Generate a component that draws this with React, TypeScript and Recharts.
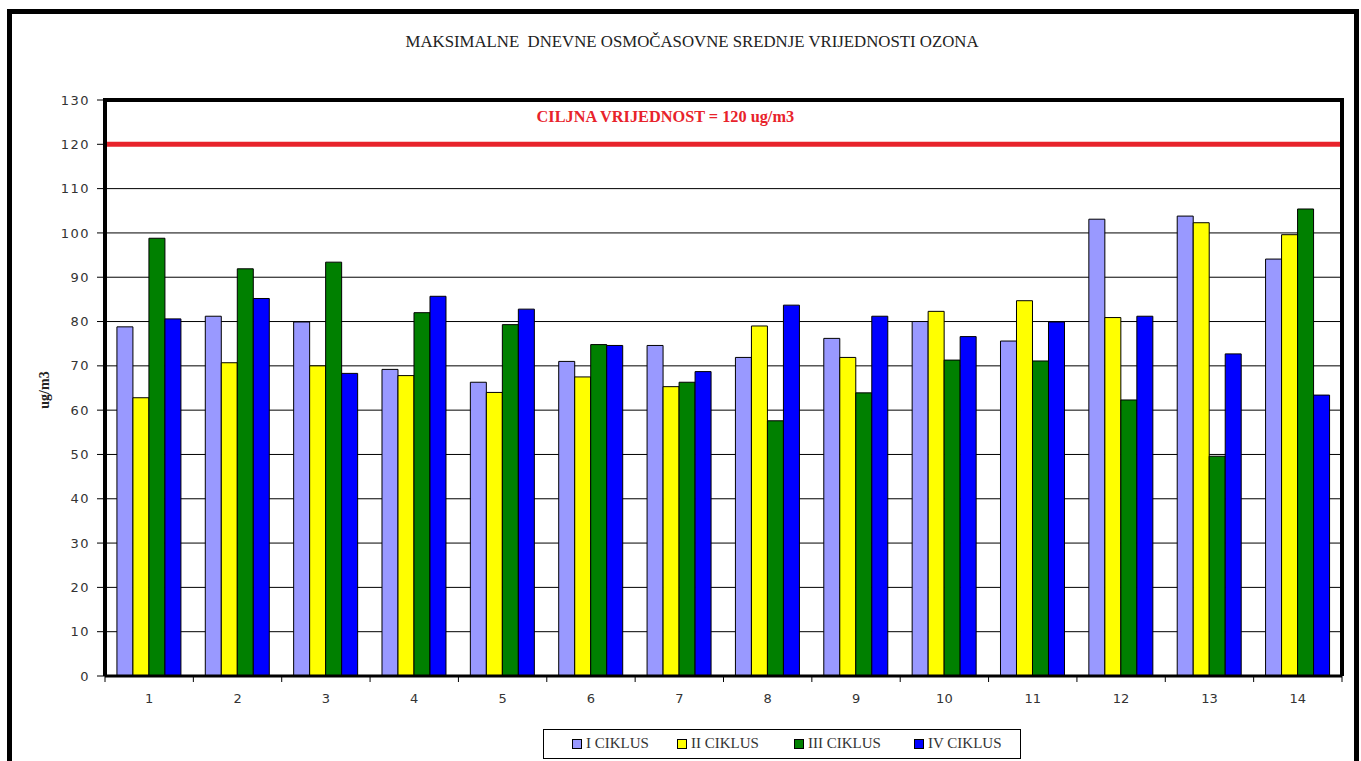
import React from "react";
import {
  BarChart,
  Bar,
  XAxis,
  YAxis,
  CartesianGrid,
  ReferenceLine,
} from "recharts";

const stations = ["1", "2", "3", "4", "5", "6", "7", "8", "9", "10", "11", "12", "13", "14"];
const ciklus1 = [78.8, 81.2, 79.9, 69.2, 66.3, 71.0, 74.6, 71.9, 76.2, 80.0, 75.6, 103.1, 103.8, 94.1];
const ciklus2 = [62.8, 70.7, 70.0, 67.8, 64.0, 67.5, 65.3, 79.0, 71.9, 82.3, 84.7, 80.9, 102.3, 99.6];
const ciklus3 = [98.8, 91.9, 93.4, 82.0, 79.3, 74.8, 66.3, 57.6, 63.9, 71.3, 71.1, 62.3, 49.6, 105.4];
const ciklus4 = [80.6, 85.2, 68.3, 85.7, 82.8, 74.6, 68.7, 83.7, 81.2, 76.6, 79.9, 81.2, 72.7, 63.4];
const yTicks = [0, 10, 20, 30, 40, 50, 60, 70, 80, 90, 100, 110, 120, 130];
const TARGET = 120;

const series = [
  { key: "c1", name: "I CIKLUS", color: "#9999FF", values: ciklus1 },
  { key: "c2", name: "II CIKLUS", color: "#FFFF00", values: ciklus2 },
  { key: "c3", name: "III CIKLUS", color: "#008000", values: ciklus3 },
  { key: "c4", name: "IV CIKLUS", color: "#0000FF", values: ciklus4 },
];

const data = stations.map((s, i) => {
  const row: Record<string, string | number> = { name: s };
  series.forEach((ser) => (row[ser.key] = ser.values[i]));
  return row;
});

const W = 1361;
const H = 761;
const PLOT_LEFT = 105;
const PLOT_RIGHT = 1342;
const PLOT_TOP = 100;
const PLOT_BOTTOM = 676;
const BAND = (PLOT_RIGHT - PLOT_LEFT) / stations.length;

function XTick(props: any) {
  const { x, payload, index } = props;
  const left = x - BAND / 2;
  return (
    <g>
      <line x1={left} y1={PLOT_BOTTOM} x2={left} y2={PLOT_BOTTOM + 6} stroke="#000" />
      {index === stations.length - 1 && (
        <line x1={x + BAND / 2} y1={PLOT_BOTTOM} x2={x + BAND / 2} y2={PLOT_BOTTOM + 6} stroke="#000" />
      )}
      <text
        x={x}
        y={PLOT_BOTTOM + 27}
        textAnchor="middle"
        fontSize={13}
        fontFamily="DejaVu Sans"
        fill="#333"
      >
        {payload.value}
      </text>
    </g>
  );
}

function TargetLabel(props: any) {
  const vb = props.viewBox;
  return (
    <text
      x={vb.x + vb.width * 0.453}
      y={vb.y - 22}
      textAnchor="middle"
      fontSize={16.3}
      fontWeight="bold"
      fontFamily="Liberation Serif"
      fill="#e8232b"
    >
      CILJNA VRIJEDNOST = 120 ug/m3
    </text>
  );
}

export default function App() {
  return (
    <div
      style={{
        position: "fixed",
        left: 0,
        top: 0,
        width: W,
        height: H,
        overflow: "hidden",
        background: "#fff",
      }}
    >
      <div
        style={{
          position: "absolute",
          left: 7,
          top: 9,
          width: 1352,
          height: 800,
          border: "5px solid #000",
          boxSizing: "border-box",
        }}
      />
      <div
        style={{
          position: "absolute",
          left: 0,
          width: 1384,
          top: 32,
          textAlign: "center",
          fontFamily: "Liberation Serif",
          fontSize: 16.8,
          color: "#222",
          whiteSpace: "pre",
        }}
      >
        {"MAKSIMALNE  DNEVNE OSMOČASOVNE SREDNJE VRIJEDNOSTI OZONA"}
      </div>
      <div
        style={{
          position: "absolute",
          left: 45,
          top: 390,
          transform: "translate(-50%, -50%) rotate(-90deg)",
          fontFamily: "Liberation Serif",
          fontWeight: "bold",
          fontSize: 14,
          color: "#222",
        }}
      >
        ug/m3
      </div>
      <div style={{ position: "absolute", left: 0, top: 0 }}>
        <BarChart
          width={W}
          height={H}
          data={data}
          margin={{ top: PLOT_TOP, right: W - PLOT_RIGHT, bottom: 55, left: 0 }}
          barCategoryGap="13.5%"
          barGap={0}
        >
          <CartesianGrid horizontal vertical={false} stroke="#000" strokeWidth={1} />
          <XAxis
            dataKey="name"
            height={30}
            axisLine={{ stroke: "#000", strokeWidth: 3 }}
            tickLine={false}
            tick={<XTick />}
            interval={0}
          />
          <YAxis
            width={PLOT_LEFT}
            domain={[0, 130]}
            ticks={yTicks}
            interval={0}
            axisLine={{ stroke: "#000", strokeWidth: 4 }}
            tickLine={{ stroke: "#000" }}
            tickSize={8}
            tickMargin={7}
            tick={{ fontSize: 13, fontFamily: "DejaVu Sans", fill: "#333", letterSpacing: 1.5 }}
          />
          {series.map((s) => (
            <Bar
              key={s.key}
              dataKey={s.key}
              name={s.name}
              fill={s.color}
              stroke="#000"
              strokeWidth={1}
              isAnimationActive={false}
            />
          ))}
          <ReferenceLine
            y={TARGET}
            stroke="#e8232b"
            strokeWidth={5}
            label={<TargetLabel />}
          />
        </BarChart>
      </div>
      <div
        style={{
          position: "absolute",
          left: PLOT_LEFT - 2,
          top: PLOT_TOP - 2,
          width: PLOT_RIGHT - PLOT_LEFT + 4,
          height: PLOT_BOTTOM - PLOT_TOP + 2,
          borderTop: "4px solid #000",
          borderRight: "4px solid #000",
          boxSizing: "border-box",
          pointerEvents: "none",
        }}
      />
      <div
        style={{
          position: "absolute",
          left: 543,
          top: 729,
          width: 478,
          height: 30,
          border: "1px solid #000",
          boxSizing: "border-box",
          background: "#fff",
        }}
      >
        {series.map((s, i) => (
          <div
            key={s.key}
            style={{
              position: "absolute",
              left: [28, 133, 250, 370][i],
              top: 5,
              display: "flex",
              alignItems: "center",
              fontFamily: "Liberation Serif",
              fontSize: 15,
              color: "#333",
              whiteSpace: "nowrap",
            }}
          >
            <span
              style={{
                display: "inline-block",
                width: 8,
                height: 8,
                background: s.color,
                border: "1px solid #000",
                marginRight: 4,
              }}
            />
            {s.name}
          </div>
        ))}
      </div>
    </div>
  );
}
